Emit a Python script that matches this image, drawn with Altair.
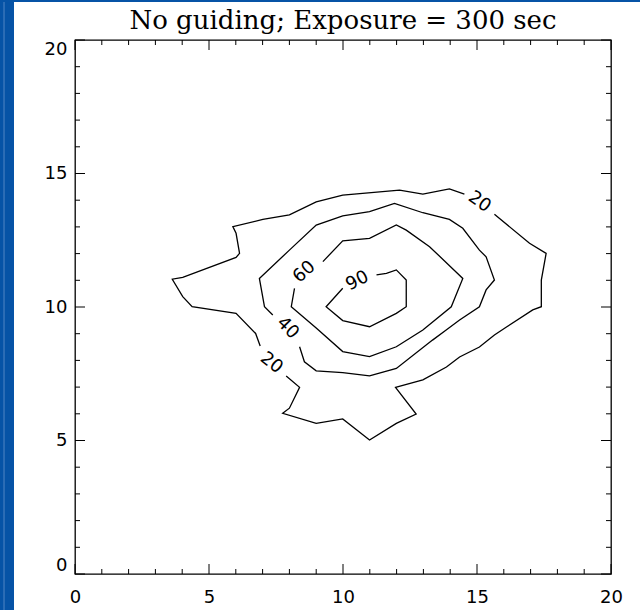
import altair as alt
import pandas as pd

W, H = 536, 534
LABEL_FONT = "DejaVu Sans"
TITLE = "No guiding; Exposure = 300 sec"

# Contour pieces in data units; each piece runs between label gaps.
c20a_x = [15.65, 16.96, 17.58, 17.40, 17.40, 17.08, 16.10, 15.65, 15.09, 14.35, 13.86, 12.98,
          11.96, 12.73, 11.99, 10.99, 9.99, 9.00, 7.75, 8.00, 8.38, 7.88]
c20a_y = [13.47, 12.39, 12.01, 11.01, 10.01, 9.89, 9.25, 8.95, 8.50, 8.13, 7.75, 7.27,
          6.99, 5.99, 5.64, 5.02, 5.81, 5.64, 6.02, 6.21, 6.99, 7.42]
c20b_x = [6.91, 6.74, 6.01, 4.37, 4.02, 3.63, 4.02, 6.01, 6.14, 6.01, 5.89, 7.01, 8.00,
          9.00, 9.99, 12.11, 12.98, 13.97, 14.53]
c20b_y = [8.54, 9.01, 9.76, 10.01, 10.39, 11.04, 11.11, 11.86, 12.01, 12.76, 13.01, 13.28,
          13.45, 13.94, 14.19, 14.38, 14.23, 14.42, 14.23]
c40_x = [8.38, 8.56, 9.00, 9.99, 10.99, 11.99, 13.34, 13.85, 14.35, 15.09, 15.34, 15.65,
         15.34, 15.09, 14.47, 13.97, 12.98, 11.92, 10.99, 9.99, 9.00, 8.00, 6.88, 7.07, 7.38]
c40_y = [8.51, 7.95, 7.61, 7.54, 7.42, 7.70, 8.76, 9.14, 9.51, 10.01, 10.64, 11.01,
         11.88, 12.13, 12.95, 13.28, 13.53, 13.88, 13.57, 13.41, 13.07, 12.13, 11.07, 10.01, 9.70]
c60_x = [9.25, 9.99, 10.99, 11.99, 12.36, 13.23, 14.47, 14.04, 12.98, 11.99, 10.99, 9.99,
         9.00, 8.07, 8.19]
c60_y = [11.70, 12.48, 12.57, 13.07, 12.88, 12.26, 11.07, 10.01, 9.14, 8.51, 8.14, 8.33,
         9.21, 10.01, 10.70]
c90_x = [11.25, 11.62, 11.99, 12.36, 12.36, 11.99, 10.99, 9.99, 9.37, 9.99]
c90_y = [11.20, 11.26, 11.39, 11.01, 10.01, 9.76, 9.26, 9.49, 10.01, 10.70]

# Contour level labels: position, text and rotation (degrees, clockwise)
lab_x = [15.09, 7.33, 7.93, 8.56, 10.54]
lab_y = [13.93, 7.90, 9.21, 11.31, 10.97]
lab_text = ["20", "20", "40", "60", "90"]
lab_angle = [35, 38, 45, 318, 333]

# Axis ticks
major_ticks = [0, 5, 10, 15, 20]
minor_ticks = [v for v in range(0, 21) if v % 5 != 0]

pieces = [("20a", c20a_x, c20a_y), ("20b", c20b_x, c20b_y), ("40", c40_x, c40_y),
          ("60", c60_x, c60_y), ("90", c90_x, c90_y)]
rows = []
for name, xs_, ys_ in pieces:
    for i, (x, y) in enumerate(zip(xs_, ys_)):
        rows.append({"piece": name, "i": i, "x": x, "y": y})
lines_df = pd.DataFrame(rows)
labels_df = pd.DataFrame({"x": lab_x, "y": lab_y, "t": lab_text, "a": lab_angle})
major_df = pd.DataFrame({"v": major_ticks})
minor_df = pd.DataFrame({"v": minor_ticks})
title_df = pd.DataFrame({"t": [TITLE]})

xs = alt.Scale(domain=[0, 20], nice=False, zero=False)
ys = alt.Scale(domain=[0, 20], nice=False, zero=False)

x_axis = alt.Axis(values=major_ticks, ticks=False, domain=False, grid=False,
                  labelFont=LABEL_FONT, labelFontSize=18, labelColor="black",
                  labelPadding=14, labelFlush=False, title=None)
y_axis = alt.Axis(values=major_ticks, ticks=False, domain=False, grid=False,
                  labelFont=LABEL_FONT, labelFontSize=18, labelColor="black",
                  labelPadding=8, labelFlush=True, title=None)

contours = alt.Chart(lines_df).mark_line(color="black", strokeWidth=1.3).encode(
    x=alt.X("x:Q", scale=xs, axis=x_axis),
    y=alt.Y("y:Q", scale=ys, axis=y_axis),
    detail="piece:N",
    order="i:Q",
)

labels = alt.Chart(labels_df).mark_text(
    font=LABEL_FONT, fontSize=18, color="black", align="center", baseline="middle"
).encode(
    x=alt.X("x:Q", scale=xs),
    y=alt.Y("y:Q", scale=ys),
    text="t:N",
    angle=alt.Angle("a:Q", scale=None),
)

title = alt.Chart(title_df).mark_text(
    font="DejaVu Serif", fontSize=26, color="black", align="center", baseline="alphabetic"
).encode(x=alt.value(W / 2), y=alt.value(-11), text="t:N")


def tick_layers(df, length):
    rule = alt.Chart(df).mark_rule(color="black", strokeWidth=1)
    bottom = rule.encode(x=alt.X("v:Q", scale=xs), y=alt.value(H), y2=alt.value(H - length))
    top = rule.encode(x=alt.X("v:Q", scale=xs), y=alt.value(0), y2=alt.value(length))
    left = rule.encode(y=alt.Y("v:Q", scale=ys), x=alt.value(0), x2=alt.value(length))
    right = rule.encode(y=alt.Y("v:Q", scale=ys), x=alt.value(W), x2=alt.value(W - length))
    return [bottom, top, left, right]


# Blue page border on the left and along the top
band = alt.Chart(major_df).mark_rect(color="#0653a6").encode(
    x=alt.value(-75), x2=alt.value(-61), y=alt.value(-40), y2=alt.value(H + 36))
stripe = alt.Chart(major_df).mark_rect(color="#2c6db5").encode(
    x=alt.value(-71.5), x2=alt.value(-70), y=alt.value(-40), y2=alt.value(H + 36))
topband = alt.Chart(major_df).mark_rect(color="#0653a6").encode(
    x=alt.value(-75), x2=alt.value(W + 29), y=alt.value(-40), y2=alt.value(-38))

chart = alt.layer(
    band, stripe, topband, title,
    contours, labels,
    *tick_layers(major_df, 10), *tick_layers(minor_df, 5),
).properties(
    width=W, height=H,
    autosize=alt.AutoSizeParams(type="none"),
    padding={"left": 75, "top": 40, "right": 29, "bottom": 36},
    background="white",
).configure_view(stroke="black", strokeWidth=1.3)

chart.save("out.html", embed_options={"renderer": "svg", "actions": False})
